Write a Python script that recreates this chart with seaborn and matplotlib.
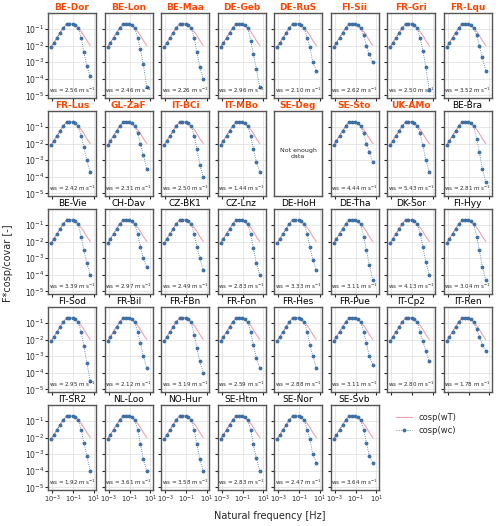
import numpy as np
import pandas as pd
import matplotlib
matplotlib.use("Agg")
import matplotlib.pyplot as plt
import seaborn as sns

sns.set_style("ticks")
plt.rcParams['font.family'] = ['DejaVu Sans']

sites = ["BE-Dor","BE-Lon","BE-Maa","DE-Geb","DE-RuS","FI-Sii","FR-Gri","FR-Lqu",
         "FR-Lus","GL-ZaF","IT-BCi","IT-MBo","SE-Deg","SE-Sto","UK-AMo","BE-Bra",
         "BE-Vie","CH-Dav","CZ-BK1","CZ-Lnz","DE-HoH","DE-Tha","DK-Sor","FI-Hyy",
         "FI-Sod","FR-Bil","FR-FBn","FR-Fon","FR-Hes","FR-Pue","IT-Cp2","IT-Ren",
         "IT-SR2","NL-Loo","NO-Hur","SE-Htm","SE-Nor","SE-Svb"]
highlight = sites[:15]
ws = [2.56,2.46,2.26,2.96,2.10,2.62,2.50,3.52,
      2.42,2.31,2.50,1.44,None,4.44,5.43,2.81,
      3.39,2.97,2.49,2.83,3.33,3.11,4.13,3.04,
      2.95,2.12,3.19,2.59,2.88,3.11,2.80,1.78,
      1.92,3.61,3.58,2.83,2.47,3.64]

freq = [0.0008,0.0015,0.003,0.006,0.012,0.024,0.045,0.09,0.17,0.32,0.6,1.1,2.1,4.5]
cosp_wT = [8e-3,1.5e-2,3e-2,6e-2,1.2e-1,1.9e-1,2.1e-1,2.0e-1,1.6e-1,1.1e-1,7e-2,4e-2,2e-2,1e-2]
# high-frequency tail of cosp(wc) at the last four frequencies
tails = {
 "BE-Dor":[3e-2,4e-3,6e-4,1.5e-4],"BE-Lon":[3e-2,6e-3,8e-4,3e-5],"BE-Maa":[3e-2,4e-3,5e-4,1e-4],
 "DE-Geb":[2e-2,3e-3,4e-4,3e-5],"DE-RuS":[3e-2,8e-3,1e-3,3e-4],"FI-Sii":[4e-2,1e-2,3e-3,1e-3],
 "FR-Gri":[3e-2,5e-3,5e-4,2e-5],"FR-Lqu":[4e-2,1e-2,2e-3,3e-4],"FR-Lus":[3e-2,6e-3,1e-3,2e-4],
 "GL-ZaF":[4e-2,1e-2,2e-3,3e-4],"IT-BCi":[3e-2,5e-3,5e-4,1e-4],"IT-MBo":[3e-2,5e-3,8e-4,2e-4],
 "SE-Sto":[4e-2,1e-2,3e-3,8e-4],"UK-AMo":[4e-2,8e-3,1e-3,2e-4],"BE-Bra":[2e-2,3e-3,3e-4,5e-5],
 "BE-Vie":[2e-2,3e-3,5e-4,1e-4],"CH-Dav":[3e-2,5e-3,1e-3,3e-4],"CZ-BK1":[3e-2,5e-3,1e-3,2e-4],
 "CZ-Lnz":[3e-2,4e-3,5e-4,1e-4],"DE-HoH":[3e-2,5e-3,8e-4,2e-4],"DE-Tha":[2e-2,3e-3,4e-4,5e-5],
 "DK-Sor":[3e-2,5e-3,6e-4,1e-4],"FI-Hyy":[2e-2,3e-3,3e-4,5e-5],"FI-Sod":[3e-2,4e-3,4e-4,3e-5],
 "FR-Bil":[3e-2,6e-3,1e-3,2e-4],"FR-FBn":[2e-2,3e-3,5e-4,1e-4],"FR-Fon":[3e-2,5e-3,8e-4,2e-4],
 "FR-Hes":[3e-2,5e-3,1e-3,2e-4],"FR-Pue":[3e-2,6e-3,1e-3,3e-4],"IT-Cp2":[3e-2,8e-3,2e-3,5e-4],
 "IT-Ren":[4e-2,1.5e-2,5e-3,2e-3],"IT-SR2":[3e-2,5e-3,8e-4,1e-4],"NL-Loo":[3e-2,4e-3,5e-4,1e-4],
 "NO-Hur":[3e-2,4e-3,5e-4,1e-4],"SE-Htm":[3e-2,4e-3,6e-4,1e-4],"SE-Nor":[3e-2,8e-3,1e-3,3e-4],
 "SE-Svb":[3e-2,5e-3,8e-4,3e-4],
}

W, H = 500, 526
fig = plt.figure(figsize=(5, 5.26), dpi=100)
x0, pitchx, aw = 48, 56.5, 48
y0, pitchy, ah = 13, 98, 85
red = "#ff4500"
h = l = None
for i, s in enumerate(sites):
    r, c = divmod(i, 8)
    ax = fig.add_axes([(x0 + c*pitchx)/W, 1 - (y0 + r*pitchy + ah)/H, aw/W, ah/H])
    ax.set_xscale("log"); ax.set_yscale("log")
    ax.set_xlim(4e-4, 1.6e1); ax.set_ylim(7e-6, 0.9)
    for sp in ax.spines.values():
        sp.set_color("#555555"); sp.set_linewidth(1.0)
    if s in highlight:
        ax.set_title(s, fontsize=6.5, color=red, fontweight="bold", pad=2)
    else:
        ax.set_title(s, fontsize=6.5, color="black", pad=2)
    if s == "SE-Deg":
        ax.set_xticks([]); ax.set_yticks([])
        ax.text(0.5, 0.5, "Not enough\ndata", ha="center", va="center", fontsize=4.5, transform=ax.transAxes)
        continue
    wc = cosp_wT[:10] + tails[s]
    df = pd.DataFrame({"f": freq, "wT": cosp_wT, "wc": wc})
    sns.lineplot(data=df, x="f", y="wT", ax=ax, color="#f4a0a8", lw=0.8, label="cosp(wT)", legend=False)
    sns.lineplot(data=df, x="f", y="wc", ax=ax, color="#3a6ea5", lw=0.6, ls=":", marker="o", ms=2,
                 mec="#3a6ea5", label="cosp(wc)", legend=False)
    ax.grid(True, color="#dddddd", lw=0.5)
    ax.set_xticks([1e-3, 1e-1, 1e1]); ax.set_yticks([1e-5,1e-4,1e-3,1e-2,1e-1])
    ax.minorticks_off()
    ax.tick_params(axis="y", labelsize=5.5, length=2, pad=1)
    ax.tick_params(axis="x", labelsize=4.8, length=2, pad=1)
    ax.set_xlabel(""); ax.set_ylabel("")
    if r < 4:
        ax.set_xticklabels([])
    if c != 0:
        ax.set_yticklabels([])
    ax.text(0.5, 0.03, f"ws = {ws[i]:.2f} m s$^{{-1}}$", transform=ax.transAxes, ha="center", va="bottom", fontsize=4)
    if h is None:
        h, l = ax.get_legend_handles_labels()

fig.legend(h, ["cosp(wT)", "cosp(wc)"], loc="upper left", bbox_to_anchor=(388/W, 1 - 405/H),
           frameon=False, fontsize=6)
fig.text(270/W, 1 - 516/H, "Natural frequency [Hz]", ha="center", va="center", fontsize=7)
fig.text(8/W, 0.5, "F*cosp/covar [-]", rotation=90, ha="center", va="center", fontsize=7)
fig.savefig("out.png", dpi=100)
